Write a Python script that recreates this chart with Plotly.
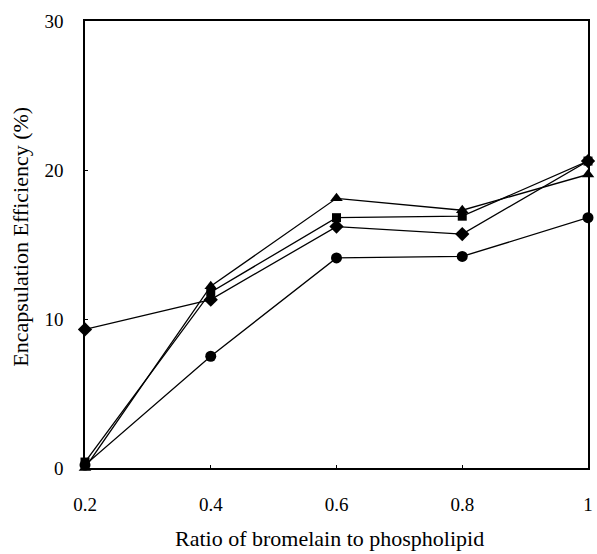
import plotly.graph_objects as go

ratio = [0.2, 0.4, 0.6, 0.8, 1.0]
diamond = [9.3, 11.3, 16.2, 15.7, 20.6]
square = [0.4, 11.8, 16.8, 16.9, 20.6]
triangle = [0.0, 12.2, 18.1, 17.3, 19.7]
circle = [0.2, 7.5, 14.1, 14.2, 16.8]

x_ticks = [0.2, 0.4, 0.6, 0.8, 1.0]
x_tick_labels = ["0.2", "0.4", "0.6", "0.8", "1"]
y_ticks = [0, 10, 20, 30]

fig = go.Figure()
series = [
    (diamond, "diamond", 11),
    (square, "square", 9),
    (triangle, "triangle-up", 11),
    (circle, "circle", 11),
]
for vals, sym, sz in series:
    fig.add_trace(go.Scatter(
        x=ratio, y=vals, mode="lines+markers",
        line=dict(color="black", width=1.3),
        marker=dict(symbol=sym, size=sz, color="black"),
        showlegend=False, cliponaxis=False,
    ))

font = dict(family="Liberation Serif, Times New Roman, serif", size=19, color="black")
W, H = 597, 554
fig.update_layout(
    width=W, height=H,
    margin=dict(l=85, r=4, t=21, b=86),
    paper_bgcolor="white", plot_bgcolor="white",
    font=font,
    xaxis=dict(
        range=[0.2, 1.0], tickvals=x_ticks, ticktext=x_tick_labels,
        showgrid=False, zeroline=False, showline=True, linecolor="black",
        linewidth=1.5, mirror=True, ticks="inside", ticklen=3, tickcolor="black",
        ticklabelstandoff=18,
    ),
    yaxis=dict(
        range=[0, 30], tickvals=y_ticks,
        showgrid=False, zeroline=False, showline=True, linecolor="black",
        linewidth=1.5, mirror=True, ticks="inside", ticklen=3, tickcolor="black",
        ticklabelstandoff=16,
    ),
    annotations=[
        dict(text="Ratio of bromelain to phospholipid", xref="paper", yref="paper",
             x=(332 - 85) / (W - 85 - 4), y=-(538 - 468) / (468 - 21),
             xanchor="center", yanchor="middle", showarrow=False,
             font=dict(size=22)),
        dict(text="Encapsulation Efficiency (%)", xref="paper", yref="paper",
             x=-(85 - 19) / (W - 85 - 4), y=(468 - 237) / (468 - 21),
             xanchor="center", yanchor="middle", showarrow=False, textangle=-90,
             font=dict(size=22)),
    ],
)
fig.write_html("out.html")
